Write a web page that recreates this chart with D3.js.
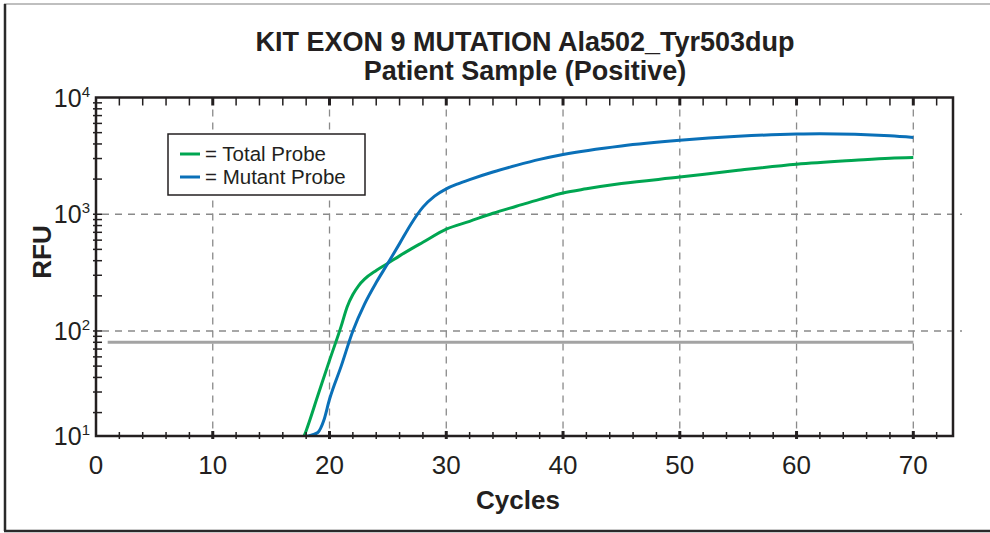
<!DOCTYPE html>
<html>
<head>
<meta charset="utf-8">
<script src="https://cdn.jsdelivr.net/npm/d3@7"></script>
<style>
  body { margin: 0; background: #fff; }
  svg { display: block; font-family: "Liberation Sans", Arial, Helvetica, sans-serif; }
</style>
</head>
<body>
<svg id="chart"></svg>
<script>
const width = 990, height = 533;

const titleLines = ["KIT EXON 9 MUTATION Ala502_Tyr503dup", "Patient Sample (Positive)"];

// Total probe (green)
const totalCycles = [17.4, 18, 19, 20, 21, 21.5, 22, 22.5, 23, 24, 25, 26, 27, 28, 30, 32, 34, 36, 38, 40, 42, 45, 50, 55, 60, 65, 68, 70];
const totalRFU = [10, 14, 28, 56, 110, 160, 205, 245, 278, 330, 380, 440, 505, 575, 745, 870, 1020, 1170, 1340, 1520, 1650, 1830, 2080, 2380, 2680, 2900, 3020, 3060];

// Mutant probe (blue)
const mutantCycles = [17.8, 18.5, 19, 19.5, 20, 21, 22, 23, 24, 25, 26, 27, 28, 29, 30, 31, 32, 34, 36, 38, 40, 45, 50, 55, 60, 62, 65, 68, 70];
const mutantRFU = [12.4, 12.9, 13.5, 17, 26, 50, 100, 170, 260, 380, 560, 830, 1150, 1430, 1650, 1820, 1980, 2300, 2620, 2950, 3250, 3850, 4300, 4650, 4870, 4900, 4850, 4700, 4550];

// threshold line
const thresholdRFU = 80;
const thresholdFrom = 1, thresholdTo = 70;

const xMajor = [0, 10, 20, 30, 40, 50, 60, 70];
const yMajor = [1000, 100];
const yLabels = [{v: 10000, exp: "4"}, {v: 1000, exp: "3"}, {v: 100, exp: "2"}, {v: 12.6, exp: "1"}];

const legendItems = [
  {label: "= Total Probe", color: "#00a651"},
  {label: "= Mutant Probe", color: "#0a70b8"}
];

const margin = {top: 97.5, right: 37, bottom: 97, left: 96};

const svg = d3.select("#chart").attr("width", width).attr("height", height);

// outer frame
svg.append("line").attr("x1", 4).attr("x2", width).attr("y1", 4).attr("y2", 4)
  .attr("stroke", "#aaa").attr("stroke-width", 1.5);
svg.append("line").attr("x1", 5).attr("x2", 5).attr("y1", 4).attr("y2", 531)
  .attr("stroke", "#2a2a2a").attr("stroke-width", 2.5);
svg.append("line").attr("x1", 4).attr("x2", width).attr("y1", 531).attr("y2", 531)
  .attr("stroke", "#2a2a2a").attr("stroke-width", 2.5);

const x = d3.scaleLinear().domain([0, 73.4]).range([margin.left, width - margin.right]);
const y = d3.scaleLog().domain([12.6, 10000]).range([height - margin.bottom, margin.top]);

const x0 = x.range()[0], x1 = x.range()[1];
const yb = y.range()[0], yt = y.range()[1];

// grid
const grid = svg.append("g").attr("stroke", "#8a8a8a").attr("stroke-width", 1.3).attr("stroke-dasharray", "7,6");
grid.selectAll(".vg").data(xMajor.filter(d => d > 0)).enter().append("line")
  .attr("x1", d => x(d)).attr("x2", d => x(d)).attr("y1", yt + 12).attr("y2", yb - 6);
grid.selectAll(".hg").data(yMajor).enter().append("line")
  .attr("x1", x0 + 6).attr("x2", x1 + 9).attr("y1", d => y(d)).attr("y2", d => y(d));

// threshold
svg.append("line")
  .attr("x1", x(thresholdFrom)).attr("x2", x(thresholdTo))
  .attr("y1", y(thresholdRFU)).attr("y2", y(thresholdRFU))
  .attr("stroke", "#a3a3a3").attr("stroke-width", 3);

// curves
svg.append("clipPath").attr("id", "clip").append("rect")
  .attr("x", x0).attr("y", yt).attr("width", x1 - x0).attr("height", yb - yt);

const line = d3.line().x(d => x(d[0])).y(d => y(d[1])).curve(d3.curveMonotoneX);

svg.append("path")
  .datum(d3.zip(totalCycles, totalRFU))
  .attr("clip-path", "url(#clip)")
  .attr("fill", "none").attr("stroke", legendItems[0].color).attr("stroke-width", 3)
  .attr("d", line);

svg.append("path")
  .datum(d3.zip(mutantCycles, mutantRFU))
  .attr("clip-path", "url(#clip)")
  .attr("fill", "none").attr("stroke", legendItems[1].color).attr("stroke-width", 3)
  .attr("d", line);

// frame of plot
svg.append("path")
  .attr("d", `M${x0},${yt}H${x1}V${yb}H${x0}Z`)
  .attr("fill", "none").attr("stroke", "#231f20").attr("stroke-width", 2.5);

// x ticks (bottom and top)
const xTicks = d3.range(2, 73, 2);
const ticks = svg.append("g").attr("stroke", "#231f20");
ticks.selectAll(".bt").data(xTicks).enter().append("line")
  .attr("x1", d => x(d)).attr("x2", d => x(d))
  .attr("y1", d => yb - (d % 10 === 0 ? 5 : 4)).attr("y2", yb + 3)
  .attr("stroke-width", d => d % 10 === 0 ? 3 : 1.5);
ticks.selectAll(".tt").data(xTicks).enter().append("line")
  .attr("x1", d => x(d)).attr("x2", d => x(d))
  .attr("y1", yt).attr("y2", yt + 8)
  .attr("stroke-width", d => d % 10 === 0 ? 3 : 1.5);

// y ticks (left)
const yTicks = [];
[10, 100, 1000].forEach(dec => d3.range(1, 10).forEach(m => {
  const v = dec * m;
  if (v > y.domain()[0] && v < 10000) yTicks.push(v);
}));
ticks.selectAll(".lt").data(yTicks).enter().append("line")
  .attr("x1", x0 - 3).attr("x2", x0 + 6)
  .attr("y1", d => y(d)).attr("y2", d => y(d))
  .attr("stroke-width", 1.5);

// x tick labels
svg.selectAll(".xl").data(xMajor).enter().append("text")
  .attr("x", d => x(d)).attr("y", yb + 38)
  .attr("text-anchor", "middle").attr("font-size", 26).attr("fill", "#231f20")
  .text(d => d);

// y tick labels
const yl = svg.selectAll(".yl").data(yLabels).enter().append("text")
  .attr("x", x0 - 6).attr("y", d => y(d.v) + 9)
  .attr("text-anchor", "end").attr("font-size", 25).attr("fill", "#231f20");
yl.append("tspan").text("10");
yl.append("tspan").attr("dy", -10).attr("font-size", 15).text(d => d.exp);

// axis titles
svg.append("text")
  .attr("x", 518).attr("y", 509)
  .attr("text-anchor", "middle").attr("font-size", 26).attr("font-weight", "bold").attr("fill", "#231f20")
  .text("Cycles");
svg.append("text")
  .attr("transform", "translate(51,252) rotate(-90)")
  .attr("text-anchor", "middle").attr("font-size", 26).attr("font-weight", "bold").attr("fill", "#231f20")
  .text("RFU");

// title
svg.selectAll(".title").data(titleLines).enter().append("text")
  .attr("x", 525).attr("y", (d, i) => 51 + i * 29)
  .attr("text-anchor", "middle").attr("font-size", 27).attr("font-weight", "bold").attr("fill", "#231f20")
  .text(d => d);

// legend
const legend = svg.append("g").attr("transform", "translate(168,134)");
legend.append("rect").attr("width", 197).attr("height", 61)
  .attr("fill", "#fff").attr("stroke", "#231f20").attr("stroke-width", 1.5);
const li = legend.selectAll(".li").data(legendItems).enter().append("g")
  .attr("transform", (d, i) => `translate(0,${20 + i * 23})`);
li.append("line").attr("x1", 12).attr("x2", 32).attr("stroke", d => d.color).attr("stroke-width", 3);
li.append("text").attr("x", 37).attr("y", 7).attr("font-size", 20.5).attr("fill", "#231f20").text(d => d.label);
</script>
</body>
</html>
